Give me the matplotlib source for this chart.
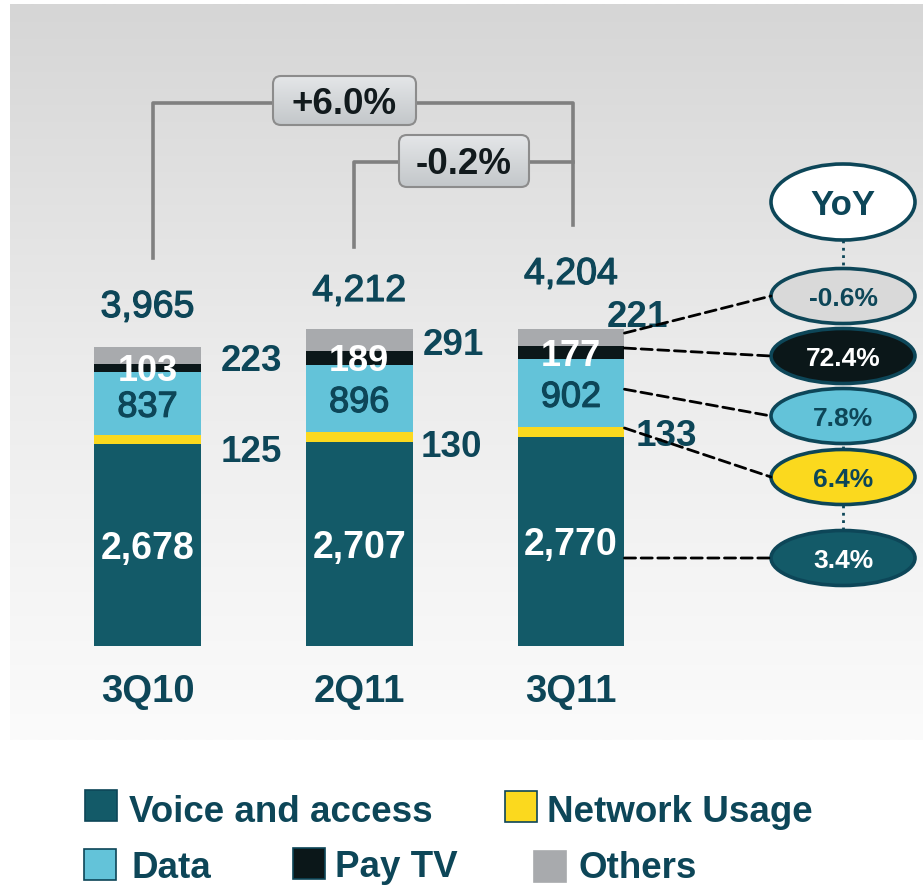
import matplotlib.pyplot as plt
import numpy as np
import matplotlib.patheffects as pe
from matplotlib.colors import LinearSegmentedColormap
from matplotlib.patches import Ellipse, FancyBboxPatch, Rectangle, ConnectionPatch
from matplotlib.transforms import blended_transform_factory

plt.rcParams['font.family'] = ['Liberation Sans', 'DejaVu Sans']

# revenue breakdown per quarter
quarters = ['3Q10', '2Q11', '3Q11']
totals = [3965, 4212, 4204]
voice = [2678, 2707, 2770]
network = [125, 130, 133]
data = [837, 896, 902]
pay_tv = [103, 189, 177]
others = [223, 291, 221]
series_names = ['Voice and access', 'Network Usage', 'Data', 'Pay TV', 'Others']
yoy = [3.4, 6.4, 7.8, 72.4, -0.6]
growth_year = 6.0
growth_quarter = -0.2

TEAL = '#135a68'
TEXT = '#0d4658'
colors = [TEAL, '#fbd91e', '#63c3d9', '#0b1719', '#a8aaad']
yoy_fill = [TEAL, '#fbd91e', '#63c3d9', '#0b1719', '#d9d9d9']
yoy_text = ['white', TEXT, TEXT, 'white', TEXT]

# slightly heavier look for the "regular" numbers
thick = [pe.withStroke(linewidth=0.9, foreground=TEXT)]

W, H = 923, 888
fig = plt.figure(figsize=(W / 100, H / 100), dpi=100)

# background gradient
bg = fig.add_axes([0, 0, 1, 1])
bg.set_xlim(0, W)
bg.set_ylim(H, 0)
bg.axis('off')
grad = np.linspace(0, 1, 256).reshape(-1, 1)
bg_cmap = LinearSegmentedColormap.from_list('bg', ['#d6d6d6', '#ececec', '#fbfbfb'])
bg.imshow(grad, cmap=bg_cmap, extent=(10, W, 740, 5), aspect='auto')

# bar axes, scaled so the bars sit where they do in the slide
base_px = 645.5
scale = 0.0752
x0_px, step_px = 147.5, 211.75
ax = fig.add_axes([0, 0, 1, 1])
ax.patch.set_alpha(0)
ax.set_xlim(-x0_px / step_px, (W - x0_px) / step_px)
ax.set_ylim(-(H - base_px) / scale, base_px / scale)
ax.axis('off')

x = np.arange(len(quarters))
segs = np.array([voice, network, data, pay_tv, others])
starts = np.cumsum(segs, axis=0) - segs
bar_w = 0.505
for vals, st, c in zip(segs, starts, colors):
    ax.bar(x, vals, bottom=st, width=bar_w, color=c, linewidth=0)

for i in x:
    ax.text(i, voice[i] / 2, f'{voice[i]:,}', color='white', fontsize=27, fontweight='bold',
            ha='center', va='center_baseline')
    ax.text(i, starts[2][i] + data[i] / 2, str(data[i]), color=TEXT, fontsize=26,
            ha='center', va='center_baseline', path_effects=thick)
    ax.text(i, starts[3][i] + pay_tv[i] / 2, str(pay_tv[i]), color='white', fontsize=26,
            fontweight='bold', ha='center', va='center_baseline')

# overlay in pixel coordinates for the slide decorations
deco = fig.add_axes([0, 0, 1, 1])
deco.patch.set_alpha(0)
deco.set_xlim(0, W)
deco.set_ylim(H, 0)
deco.axis('off')
mix = blended_transform_factory(ax.transData, deco.transData)

# totals and category labels
total_y = [303, 287, 270]
for i in x:
    deco.text(i, total_y[i], f'{totals[i]:,}', transform=mix, color=TEXT, fontsize=27,
              ha='center', va='center_baseline', path_effects=thick)
    deco.text(i, 688, quarters[i], transform=mix, color=TEXT, fontsize=27.5, fontweight='bold',
              ha='center', va='center_baseline')

# side labels for others and network usage
others_pos = [(251, 357), (453, 341), (637, 313)]
network_pos = [(251, 448), (451, 443), (666, 432)]
for i in x:
    deco.text(*others_pos[i], str(others[i]), color=TEXT, fontsize=26.5, fontweight='bold',
              ha='center', va='center_baseline')
    deco.text(*network_pos[i], str(network[i]), color=TEXT, fontsize=26.5, fontweight='bold',
              ha='center', va='center_baseline')

# growth brackets
gray = '#808080'
deco.plot([153, 153, 573, 573], [258, 103, 103, 225], color=gray, lw=2.6, zorder=1)
deco.plot([354, 354, 573], [247, 162, 162], color=gray, lw=2.6, zorder=1)


def growth_box(x, y, w, h, label):
    box = FancyBboxPatch((x, y), w, h, boxstyle='round,pad=0,rounding_size=8',
                         fc='none', ec='#8c8c8c', lw=1.5, zorder=3)
    deco.add_patch(box)
    g = deco.imshow(np.linspace(0, 1, 64).reshape(-1, 1),
                    cmap=LinearSegmentedColormap.from_list('box', ['#e4e6e8', '#c3c7ca']),
                    extent=(x, x + w, y + h, y), aspect='auto', zorder=2)
    g.set_clip_path(box)
    deco.text(x + w / 2, y + h / 2, label, color='#121a1d', fontsize=26.5, fontweight='bold',
              ha='center', va='center_baseline', zorder=4)


growth_box(273, 76, 143, 49, f'{growth_year:+.1f}%')
growth_box(399, 135, 130, 52, f'{growth_quarter:+.1f}%')
deco.set_xlim(0, W)
deco.set_ylim(H, 0)

# YoY column
ex, ew, eh = 843, 144, 55
deco.plot([ex, ex], [240, 530], ls=':', color=TEXT, lw=2, zorder=1)
deco.add_patch(Ellipse((ex, 202), ew, 76, fc='white', ec=TEXT, lw=2.6, zorder=2))
deco.text(ex, 202, 'YoY', color=TEXT, fontsize=25, fontweight='bold',
          ha='center', va='center_baseline', zorder=3)

yoy_y = [558, 477, 416, 356, 296]
anchor = [0.42, 0.92, 0.56, 0.85, 0.78]
for k in range(len(series_names)):
    deco.add_patch(Ellipse((ex, yoy_y[k]), ew, eh, fc=yoy_fill[k], ec=TEXT, lw=2.6, zorder=2))
    deco.text(ex, yoy_y[k], f'{yoy[k]:.1f}%', color=yoy_text[k], fontsize=19, fontweight='bold',
              ha='center', va='center_baseline', zorder=3)
    level = starts[k][2] + anchor[k] * segs[k][2]
    con = ConnectionPatch(xyA=(2 + bar_w / 2, level), coordsA=ax.transData,
                          xyB=(ex - ew / 2, yoy_y[k]), coordsB=deco.transData,
                          color='black', lw=2, linestyle=(0, (4, 2)), zorder=1)
    fig.add_artist(con)

# legend
leg_pos = [(85, 790, 129, 822), (505, 791, 547, 822), (84, 849, 131, 878),
           (293, 848, 335, 877), (534, 851, 578, 878)]
for k, name in enumerate(series_names):
    sx, sy, tx, ty = leg_pos[k]
    edge = TEXT if k < 4 else colors[k]
    deco.add_patch(Rectangle((sx, sy), 32, 31, fc=colors[k], ec=edge, lw=1.2))
    deco.text(tx, ty, name, color=TEXT, fontsize=26.5, fontweight='bold', ha='left', va='baseline')

fig.savefig('out.png', dpi=100)
